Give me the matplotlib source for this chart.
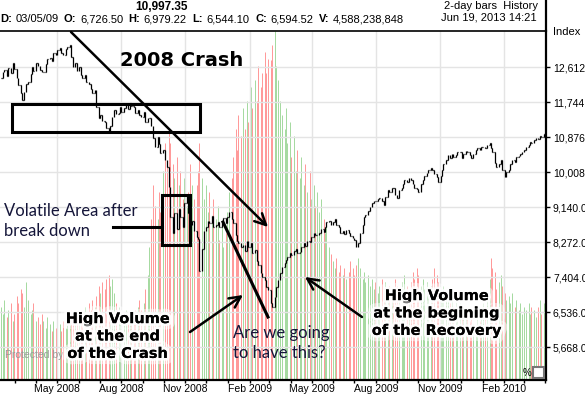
import numpy as np
import pandas as pd
import matplotlib
matplotlib.use('Agg')
import matplotlib.pyplot as plt
import matplotlib.dates as mdates
from matplotlib import patheffects as pe
from matplotlib.patches import Rectangle
from matplotlib.lines import Line2D
from matplotlib.ticker import StrMethodFormatter

# closing value of every 2-day bar, Feb 2008 .. Mar 2010
closes = [
    12350, 12480, 12530, 12400, 12590, 12470, 12720, 12560, 12340, 12160,
    11960, 11800, 11990, 12180, 12250, 12450, 12610, 12520, 12700, 12640,
    12550, 12480, 12500, 12680, 12800, 12840, 12760, 12960, 12900, 13040,
    13080, 12960, 12910, 13050, 13100, 13150, 12850, 12600, 12700, 12520,
    12600, 12420, 12340, 12420, 12250, 12200, 12060, 11960, 12050, 11620,
    11350, 11420, 11280, 11240, 11100, 10980, 11150, 11380, 11550, 11450,
    11470, 11620, 11500, 11590, 11700, 11560, 11720, 11650, 11610, 11480,
    11550, 11420, 11380, 11500, 11250, 11350, 11350, 11150, 10850, 10630,
    10880, 10700, 10480, 10550, 10300, 10130, 9640, 8900, 8500, 9000,
    8600, 9100, 8900, 8650, 9250, 9450, 9000, 8700, 8800, 8550,
    8400, 8350, 7550, 8100, 8550, 8650, 8800, 8750, 8920, 8650,
    8700, 8780, 8650, 8800, 8870, 8750, 8900, 9020, 8850, 8750,
    8450, 8300, 8250, 8150, 8200, 8050, 8300, 8150, 8250, 8000,
    8070, 7800, 7700, 7500, 7400, 7330, 7150, 7080, 6750, 6650,
    6910, 7150, 7330, 7500, 7650, 7750, 7830, 7900, 7990, 7950,
    8050, 8100, 8000, 8020, 8150, 8250, 8180, 8300, 8270, 8400,
    8500, 8450, 8450, 8500, 8600, 8520, 8650, 8760, 8800, 8700,
    8770, 8850, 8700, 8640, 8500, 8550, 8480, 8560, 8500, 8420,
    8380, 8330, 8150, 8250, 8500, 8700, 8880, 8950, 9050, 9150,
    9240, 9300, 9280, 9350, 9360, 9290, 9200, 9400, 9560, 9500,
    9620, 9610, 9450, 9360, 9550, 9610, 9700, 9800, 9750, 9860,
    9800, 9700, 9620, 9580, 9500, 9700, 9800, 9900, 9980, 10050,
    10100, 10060, 9950, 9880, 9760, 9900, 10060, 10200, 10300, 10430,
    10350, 10450, 10380, 10420, 10500, 10500, 10360, 10450, 10520, 10500,
    10420, 10360, 10450, 10550, 10600, 10560, 10620, 10640, 10600, 10680,
    10720, 10600, 10500, 10230, 10130, 10200, 10300, 10050, 9880, 10000,
    10060, 10200, 10300, 10250, 10380, 10400, 10450, 10500, 10560, 10620,
    10680, 10740, 10720, 10800, 10850, 10830, 10900, 10880, 10950, 10970,
]

# volume per bar, billions of shares
volumes = [
    1.05, 0.95, 1.15, 0.90, 1.00, 1.10, 0.85, 0.95, 1.20, 1.10,
    1.30, 1.25, 1.05, 1.40, 1.15, 0.95, 1.00, 1.10, 0.85, 0.90,
    0.80, 0.95, 0.85, 0.75, 0.90, 0.80, 0.70, 0.85, 0.75, 0.90,
    0.80, 0.70, 0.85, 0.75, 0.80, 0.90, 1.00, 0.85, 0.95, 0.90,
    0.85, 1.00, 0.90, 1.05, 0.95, 1.10, 1.00, 1.15, 1.05, 1.20,
    1.35, 1.25, 1.40, 1.30, 1.45, 1.50, 1.35, 1.45, 1.25, 1.10,
    1.05, 0.95, 1.10, 0.90, 1.00, 0.85, 0.95, 0.80, 0.90, 1.00,
    1.05, 1.15, 1.00, 1.10, 1.30, 1.50, 1.90, 2.30, 2.80, 2.50,
    2.30, 2.70, 2.40, 3.00, 3.40, 3.10, 3.60, 3.40, 3.10, 2.90,
    3.20, 2.80, 3.00, 2.60, 2.90, 2.50, 2.70, 3.10, 2.80, 2.60,
    2.80, 3.00, 3.40, 2.90, 2.60, 2.80, 2.40, 2.70, 2.30, 2.60,
    2.30, 2.50, 2.00, 2.20, 1.90, 2.10, 2.40, 2.70, 2.90, 3.20,
    3.60, 3.30, 3.80, 3.50, 3.90, 3.60, 4.00, 3.70, 4.20, 3.90,
    4.30, 4.00, 4.50, 4.20, 4.40, 4.70, 4.40, 4.60, 4.59, 4.80,
    5.00, 4.50, 4.30, 4.00, 3.80, 3.60, 3.90, 3.40, 3.70, 3.20,
    3.50, 3.00, 3.30, 2.90, 3.20, 2.80, 3.10, 2.70, 3.00, 2.60,
    2.80, 2.50, 2.70, 2.40, 2.60, 2.30, 2.10, 2.20, 1.90, 1.80,
    1.70, 1.60, 1.75, 1.55, 1.65, 1.50, 1.60, 1.45, 1.55, 1.70,
    1.60, 1.50, 1.65, 1.75, 1.60, 1.45, 1.55, 1.40, 1.50, 1.35,
    1.45, 1.30, 1.40, 1.25, 1.35, 1.45, 1.30, 1.40, 1.25, 1.35,
    1.20, 1.30, 1.45, 1.35, 1.25, 1.40, 1.30, 1.50, 1.35, 1.25,
    1.40, 1.55, 1.45, 1.60, 1.50, 1.35, 1.45, 1.30, 1.40, 1.25,
    1.35, 1.45, 1.60, 1.50, 1.40, 1.30, 1.20, 1.35, 1.25, 1.15,
    1.10, 1.20, 1.05, 1.15, 1.00, 1.10, 0.95, 1.05, 0.90, 1.00,
    0.85, 0.95, 0.80, 0.75, 0.90, 0.85, 1.00, 1.10, 1.05, 1.20,
    1.45, 1.75, 1.60, 1.55, 1.30, 1.40, 1.50, 1.35, 1.25, 1.15,
    1.20, 1.10, 1.25, 1.05, 1.15, 1.00, 1.10, 0.95, 1.05, 1.00,
    1.10, 0.95, 1.05, 1.00, 0.90, 1.05, 1.15, 0.95, 1.10, 1.00,
]

price_ticks = [5668, 6536, 7404, 8272, 9140, 10008, 10876, 11744, 12612]
first_bar = '2008-02-11'
x_range = ('2008-02-09', '2010-04-02')
price_range = (4850, 13505)
vol_max = 5.0

W, H = 585, 395
plt.rcParams['font.family'] = 'Liberation Sans'

fig = plt.figure(figsize=(W / 100, H / 100), dpi=100)
rect = [0, 15 / H, 546 / W, 349 / H]
ax_v = fig.add_axes(rect)
ax = fig.add_axes(rect, sharex=ax_v)
ax.patch.set_visible(False)

bars = pd.bdate_range(first_bar, periods=2 * len(closes), freq='B')[::2]
xd = mdates.date2num(bars.to_pydatetime())
closes = np.array(closes, dtype=float)
opens = np.r_[closes[0], closes[:-1]]

# volume
up = closes >= opens
vcol = np.where(up, '#a6daa1', '#ff9a9a')
ax_v.vlines(xd, 0, volumes, colors=vcol, lw=0.72)
ax_v.set_ylim(0, vol_max)
ax_v.axis('off')

# price bars
ax.vlines(xd, np.minimum(opens, closes), np.maximum(opens, closes), color='black', lw=0.9)
ax.hlines(opens, xd - 0.9, xd, color='black', lw=0.9)
ax.hlines(closes, xd, xd + 0.9, color='black', lw=0.9)

ax.set_xlim(mdates.datestr2num(x_range[0]), mdates.datestr2num(x_range[1]))
ax.set_ylim(*price_range)

ax.xaxis.set_major_locator(mdates.MonthLocator(bymonth=[2, 5, 8, 11]))
ax.xaxis.set_minor_locator(mdates.MonthLocator())
ax.xaxis.set_major_formatter(mdates.DateFormatter('%b %Y'))
ax.tick_params(axis='x', which='both', direction='out', length=2.5, width=1, labelsize=7.5, pad=0.5)

ax.yaxis.tick_right()
ax.set_yticks(price_ticks)
ax.yaxis.set_major_formatter(StrMethodFormatter('{x:,.1f}'))
ax.tick_params(axis='y', direction='out', length=3, width=1, labelsize=7.5, pad=2)
ax.grid(True, which='major', color='#e4e4e4', lw=1)

ax.spines['left'].set_visible(False)
ax.spines['top'].set_linewidth(1.2)
ax.spines['right'].set_linewidth(1.6)
ax.spines['bottom'].set_linewidth(1.6)
fig.add_artist(Line2D([546 / W, 546 / W], [1, 1 - 31 / H], transform=fig.transFigure, color='black', lw=1.6))


def fp(x, y):
    return (x / W, 1 - y / H)


# header
fig.text(*fp(162, 7), '10,997.35', ha='center', va='center', fontsize=8.5, weight='bold')
hdr = [('D:', '03/05/09'), ('O:', '6,726.50'), ('H:', '6,979.22'), ('L:', '6,544.10'),
       ('C:', '6,594.52'), ('V:', '4,588,238,848')]
renderer = fig.canvas.get_renderer()
cx = 0.0
for lab, val in hdr:
    t = fig.text(*fp(cx, 19), lab, ha='left', va='center', fontsize=8, weight='bold')
    cx += t.get_window_extent(renderer).width + 3.5
    t = fig.text(*fp(cx, 19), val, ha='left', va='center', fontsize=8)
    cx += t.get_window_extent(renderer).width + 5.5
fig.text(*fp(538, 6), '2-day bars  History', ha='right', va='center', fontsize=8)
fig.text(*fp(537, 18), 'Jun 19, 2013 14:21', ha='right', va='center', fontsize=8)
fig.text(*fp(553, 32), 'Index', ha='left', va='center', fontsize=8)

fig.text(*fp(5, 355), 'Protected by', ha='left', va='center', fontsize=7.5, color='#9a9a9a')
fig.text(*fp(531, 373), '%', ha='right', va='center', fontsize=7)
fig.add_artist(Rectangle(fp(533, 378), 11 / W, 11 / H, transform=fig.transFigure,
                         fc='white', ec='#777777', lw=1.5))

# annotations
glow = [pe.withStroke(linewidth=9, foreground='white', alpha=0.5),
        pe.withStroke(linewidth=4, foreground='white', alpha=0.9), pe.Normal()]
blue = '#15163a'

fig.text(*fp(120, 60), '2008 Crash', ha='left', va='center', fontsize=14, weight='bold',
         family='DejaVu Sans')
fig.add_artist(Rectangle(fp(12, 132), 188 / W, 28 / H, transform=fig.transFigure,
                         fill=False, ec='black', lw=2.2))
fig.add_artist(Rectangle(fp(162, 245), 28 / W, 50 / H, transform=fig.transFigure,
                         fill=False, ec='black', lw=2.2))
fig.add_artist(Line2D([113 / W, 162 / W], [1 - 227 / H, 1 - 227 / H], transform=fig.transFigure,
                      color='black', lw=2.2))
fig.add_artist(Line2D([223 / W, 268 / W], [1 - 222 / H, 1 - 317 / H], transform=fig.transFigure,
                      color='black', lw=2.2))

arrow = dict(arrowstyle='->', lw=1.8, color='black', mutation_scale=20, shrinkA=0, shrinkB=0)
for tail, head in [((71, 32), (268, 227)), ((190, 332), (243, 295)), ((362, 317), (305, 277))]:
    ax.annotate('', xy=fp(*head), xytext=fp(*tail), xycoords='figure fraction',
                textcoords='figure fraction', arrowprops=arrow, annotation_clip=False)

fig.text(*fp(4, 221), 'Volatile Area after\nbreak down', ha='left', va='center', fontsize=12,
         family='Lato', color=blue, linespacing=1.3)
fig.text(*fp(233, 343), 'Are we going\nto have this?', ha='left', va='center', fontsize=12,
         family='Lato', color=blue, linespacing=1.3)
fig.text(*fp(118, 336), 'High Volume\nat the end\nof the Crash', ha='center', va='center',
         fontsize=10.5, weight='bold', family='DejaVu Sans', linespacing=1.2, path_effects=glow)
fig.text(*fp(437, 313), 'High Volume\nat the begining\nof the Recovery', ha='center', va='center',
         fontsize=10.5, weight='bold', family='DejaVu Sans', linespacing=1.2, path_effects=glow)

fig.savefig('out.png', dpi=100)
